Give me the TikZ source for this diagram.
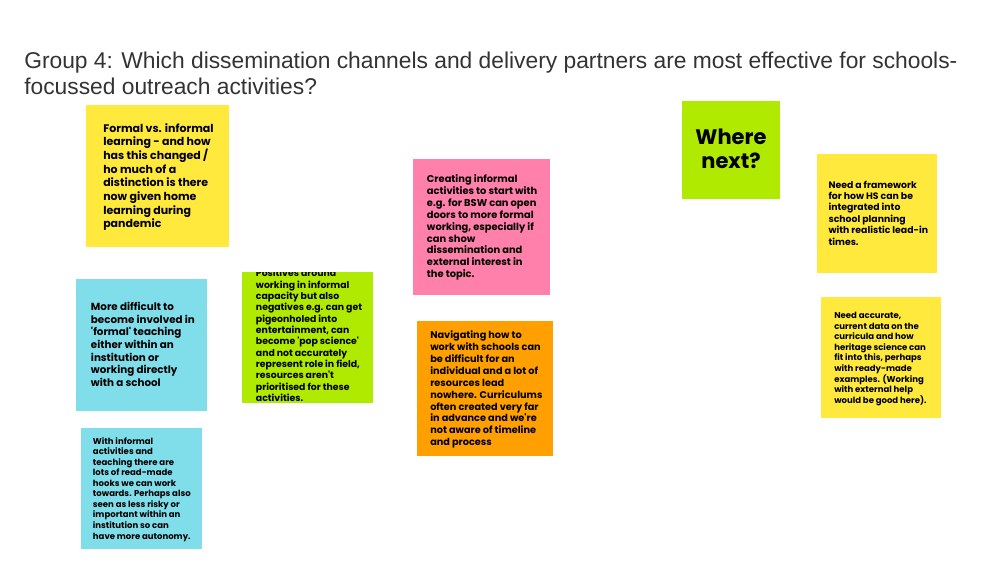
\documentclass[tikz,border=0pt]{standalone}
\usepackage{fontspec}
\setmainfont{Liberation Sans}
\newfontfamily\notefont{Poppins}
\definecolor{noteyellow}{RGB}{255,233,61}
\definecolor{noteblue}{RGB}{128,222,234}
\definecolor{notegreen}{RGB}{176,234,0}
\definecolor{notepink}{RGB}{255,128,171}
\definecolor{noteorange}{RGB}{255,160,0}
\definecolor{titlegray}{RGB}{51,51,51}

\begin{document}
\begin{tikzpicture}[x=0.75pt,y=0.75pt,yscale=-1,xscale=1,
  note/.style={anchor=north west,inner sep=0pt,outer sep=0pt},
  notetext/.style={anchor=base west,inner sep=0pt,align=left,text=black}]
    \useasboundingbox (0,0) rectangle (1000,563);
    %placed at the baseline of the last line of each text

    % Text Node
    \node [anchor=base west,inner sep=0pt,align=left,text=titlegray,font=\fontsize{17.1}{20}\selectfont] (title) at (24,95) {Group 4: Which dissemination channels and delivery partners are most effective for schools-\\focussed outreach activities?};

    %Shape: Rectangle
    \node [note,fill=noteyellow,minimum width=107.25pt,minimum height=106.5pt] (formal) at (86,105) {};
    % Text Node
    \node [notetext,font=\notefont\bfseries\fontsize{8.25}{10.28}\selectfont] (formaltxt) at (103,228) {Formal vs. informal\\learning - and how\\has this changed /\\ho much of a\\distinction is there\\now given home\\learning during\\pandemic};

    %Shape: Rectangle
    \node [note,fill=noteblue,minimum width=98.25pt,minimum height=99pt] (difficult) at (76,279) {};
    % Text Node
    \node [notetext,font=\notefont\bfseries\fontsize{7.75}{9.5}\selectfont] (difficulttxt) at (90.7,386.5) {More difficult to\\become involved in\\\textquotesingle formal\textquotesingle{} teaching\\either within an\\institution or\\working directly\\with a school};

    %Shape: Rectangle
    \node [note,fill=notegreen,minimum width=98pt,minimum height=98.25pt] (positives) at (242,272) {};
    % Text Node
    \begin{scope}
      \clip (242,272) rectangle (372.7,403);
      \node [notetext,font=\notefont\bfseries\fontsize{7}{8.5}\selectfont] (positivestxt) at (255.7,401.5) {Positives around\\working in informal\\capacity but also\\negatives e.g. can get\\pigeonholed into\\entertainment, can\\become \textquotesingle pop science\textquotesingle\\and not accurately\\represent role in field,\\resources aren\textquotesingle t\\prioritised for these\\activities.};
    \end{scope}

    %Shape: Rectangle
    \node [note,fill=noteblue,minimum width=90.5pt,minimum height=90.75pt] (hooks) at (81,428) {};
    % Text Node
    \node [notetext,font=\notefont\bfseries\fontsize{6.4}{7.9}\selectfont] (hookstxt) at (92.7,539) {With informal\\activities and\\teaching there are\\lots of read-made\\hooks we can work\\towards. Perhaps also\\seen as less risky or\\important within an\\institution so can\\have more autonomy.};

    %Shape: Rectangle
    \node [note,fill=notepink,minimum width=102.75pt,minimum height=102pt] (creating) at (413,159) {};
    % Text Node
    \node [notetext,font=\notefont\bfseries\fontsize{7.4}{8.9}\selectfont] (creatingtxt) at (426.7,277.7) {Creating informal\\activities to start with\\e.g. for BSW can open\\doors to more formal\\working, especially if\\can show\\dissemination and\\external interest in\\the topic.};

    %Shape: Rectangle
    \node [note,fill=noteorange,minimum width=102pt,minimum height=101.25pt] (navigating) at (417,321) {};
    % Text Node
    \node [notetext,font=\notefont\bfseries\fontsize{7.3}{8.9}\selectfont] (navigatingtxt) at (430,445.6) {Navigating how to\\work with schools can\\be difficult for an\\individual and a lot of\\resources lead\\nowhere. Curriculums\\often created very far\\in advance and we\textquotesingle re\\not aware of timeline\\and process};

    %Shape: Rectangle
    \node [note,fill=notegreen,minimum width=73.5pt,minimum height=73.5pt] (where) at (682,101) {};
    % Text Node
    \node [anchor=base,inner sep=0pt,align=center,font=\notefont\bfseries\fontsize{15.75}{18.5}\selectfont] (wheretxt) at (731,169) {Where\\next?};

    %Shape: Rectangle
    \node [note,fill=noteyellow,minimum width=90pt,minimum height=89.25pt] (framework) at (817,154) {};
    % Text Node
    \node [notetext,font=\notefont\bfseries\fontsize{7}{8.5}\selectfont] (frameworktxt) at (828.3,245) {Need a framework\\for how HS can be\\integrated into\\school planning\\with realistic lead-in\\times.};

    %Shape: Rectangle
    \node [note,fill=noteyellow,minimum width=90pt,minimum height=90.5pt] (accurate) at (820.7,297) {};
    % Text Node
    \node [notetext,font=\notefont\bfseries\fontsize{6.4}{7.95}\selectfont] (accuratetxt) at (834,403.3) {Need accurate,\\current data on the\\curricula and how\\heritage science can\\fit into this, perhaps\\with ready-made\\examples. (Working\\with external help\\would be good here).};

\end{tikzpicture}
\end{document}
